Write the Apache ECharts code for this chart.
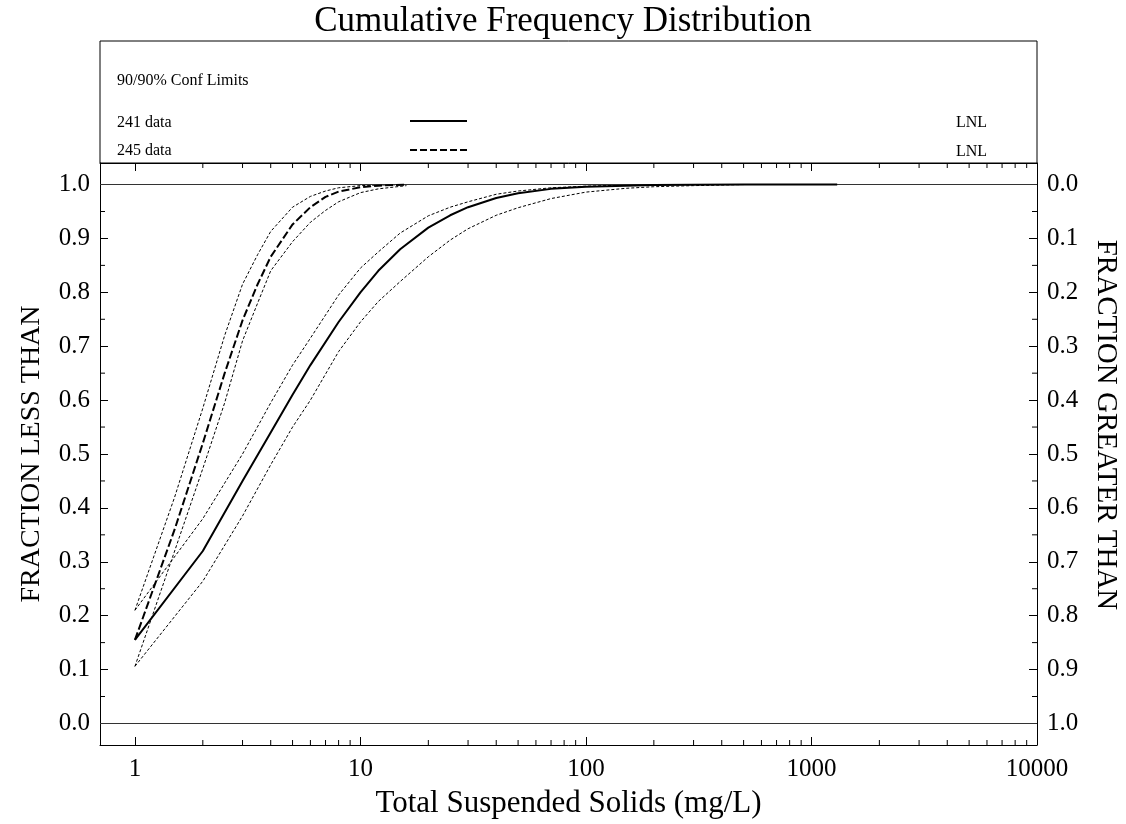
<!DOCTYPE html>
<html>
<head>
<meta charset="utf-8">
<script src="https://cdn.jsdelivr.net/npm/echarts@6.0.0/dist/echarts.min.js"></script>
<style>
  html, body { margin: 0; padding: 0; background: #fff; }
  #cfd { width: 1126px; height: 824px; }
</style>
</head>
<body>
<div id="cfd"></div>
<script>
// 241 data (solid) and its 90/90% limits
var x241 = [1, 2, 3, 4, 5, 6, 8, 10, 12, 15, 20, 25, 30, 40, 50, 70, 100, 150, 200, 300, 500, 1000, 1300];
var fit241 = [0.155, 0.32, 0.45, 0.54, 0.61, 0.665, 0.745, 0.80, 0.84, 0.88, 0.92, 0.943, 0.958, 0.975, 0.984, 0.992, 0.996, 0.998, 0.999, 0.9996, 1.0, 1.0, 1.0];
var confX241 = [1, 2, 3, 4, 5, 6, 8, 10, 12, 15, 20, 25, 30, 40, 50, 70, 100, 150, 200, 300, 500];
var upper241 = [0.21, 0.38, 0.50, 0.595, 0.665, 0.715, 0.795, 0.845, 0.875, 0.91, 0.942, 0.958, 0.968, 0.982, 0.988, 0.994, 0.997, 0.999, 0.9995, 1.0, 1.0];
var lower241 = [0.106, 0.264, 0.385, 0.48, 0.55, 0.60, 0.69, 0.745, 0.783, 0.82, 0.866, 0.897, 0.918, 0.943, 0.957, 0.974, 0.986, 0.993, 0.996, 0.998, 1.0];

// 245 data (dashed) and its 90/90% limits
var x245 = [1, 1.5, 2, 2.5, 3, 3.5, 4, 5, 6, 7, 8, 10, 12, 16];
var fit245 = [0.155, 0.36, 0.52, 0.65, 0.748, 0.815, 0.866, 0.926, 0.958, 0.977, 0.987, 0.995, 0.998, 1.0];
var upper245 = [0.21, 0.42, 0.585, 0.72, 0.815, 0.87, 0.913, 0.958, 0.978, 0.988, 0.994, 0.998, 0.999, 1.0];
var lower245 = [0.106, 0.32, 0.473, 0.595, 0.71, 0.78, 0.84, 0.894, 0.93, 0.952, 0.968, 0.985, 0.992, 0.998];

// minor tick positions
var xMinorTicks = [2, 3, 4, 5, 6, 7, 8, 9, 20, 30, 40, 50, 60, 70, 80, 90,
  200, 300, 400, 500, 600, 700, 800, 900, 2000, 3000, 4000, 5000, 6000, 7000, 8000, 9000];
var yMinorTicks = [0.05, 0.15, 0.25, 0.35, 0.45, 0.55, 0.65, 0.75, 0.85, 0.95];

var FONT = "Liberation Serif";

function pairs(xs, ys) {
  return xs.map(function (x, i) { return [x, ys[i]]; });
}

var myChart = echarts.init(document.getElementById("cfd"), null, { renderer: "canvas" });

function xAxisBase(pos) {
  return {
    type: "log",
    logBase: 10,
    position: pos,
    min: 0.7,
    max: 10000,
    axisLine: { show: true, onZero: false, lineStyle: { color: "#000", width: 1 } },
    axisTick: { show: true, inside: true, length: 8, lineStyle: { color: "#000" } },
    splitLine: { show: false },
  };
}

function yAxisBase(pos, fmt) {
  return {
    type: "value",
    position: pos,
    min: -0.04,
    max: 1.04,
    splitNumber: 10,
    axisLine: { show: true, onZero: false, lineStyle: { color: "#000", width: 1 } },
    axisTick: { show: true, inside: true, length: 8, lineStyle: { color: "#000" } },
    splitLine: { show: false },
    axisLabel: {
      show: true,
      showMinLabel: false,
      showMaxLabel: false,
      margin: 10,
      color: "#000",
      fontFamily: FONT,
      fontSize: 25,
      formatter: fmt,
    },
    nameLocation: "middle",
    nameTextStyle: { color: "#000", fontFamily: FONT, fontSize: 28 },
  };
}

var xBottom = xAxisBase("bottom");
xBottom.name = "Total Suspended Solids (mg/L)";
xBottom.nameLocation = "middle";
xBottom.nameGap = 43;
xBottom.nameTextStyle = { color: "#000", fontFamily: FONT, fontSize: 31 };
xBottom.axisLabel = {
  show: true,
  showMinLabel: false,
  hideOverlap: false,
  margin: 12,
  color: "#000",
  fontFamily: FONT,
  fontSize: 25,
  formatter: function (v) { return String(Math.round(v)); },
};

var xTop = xAxisBase("top");
xTop.axisLabel = { show: false };

var yLeft = yAxisBase("left", function (v) { return v.toFixed(1); });
yLeft.name = "FRACTION LESS THAN";
yLeft.nameGap = 54;
yLeft.nameRotate = 90;

var yRight = yAxisBase("right", function (v) { return Math.abs(1 - v).toFixed(1); });

var confStyle = { color: "#000", width: 1, type: [3, 2] };

var option = {
  backgroundColor: "#fff",
  animation: false,
  title: {
    text: "Cumulative Frequency Distribution",
    left: "center",
    top: -1,
    textStyle: { color: "#000", fontFamily: FONT, fontSize: 35, fontWeight: "normal" },
  },
  grid: { left: 100, right: 89, top: 163, bottom: 79, containLabel: false, outerBoundsMode: "none" },
  xAxis: [xBottom, xTop],
  yAxis: [yLeft, yRight],
  graphic: [
    // frame around legend block
    { type: "rect", shape: { x: 100, y: 41, width: 937, height: 122 }, style: { fill: "none", stroke: "#000", lineWidth: 1 }, silent: true },
    { type: "text", left: 117, top: 73, style: { text: "90/90% Conf Limits", fontFamily: FONT, fontSize: 16, fill: "#000" } },
    { type: "text", left: 117, top: 115, style: { text: "241 data", fontFamily: FONT, fontSize: 16, fill: "#000" } },
    { type: "text", left: 117, top: 143, style: { text: "245 data", fontFamily: FONT, fontSize: 16, fill: "#000" } },
    { type: "text", left: 956, top: 115, style: { text: "LNL", fontFamily: FONT, fontSize: 16, fill: "#000" } },
    { type: "text", left: 956, top: 144, style: { text: "LNL", fontFamily: FONT, fontSize: 16, fill: "#000" } },
    { type: "line", shape: { x1: 410, y1: 121, x2: 467, y2: 121 }, style: { stroke: "#000", lineWidth: 2 } },
    { type: "line", shape: { x1: 410, y1: 150, x2: 467, y2: 150 }, style: { stroke: "#000", lineWidth: 2, lineDash: [7, 3] } },
    // right axis title, sits a little above the axis middle
    {
      type: "text",
      x: 1106,
      y: 425,
      rotation: -Math.PI / 2,
      style: { text: "FRACTION GREATER THAN", fontFamily: FONT, fontSize: 29, fill: "#000", align: "center", verticalAlign: "middle" },
    },
  ],
  series: [
    {
      name: "241 data",
      type: "line",
      data: pairs(x241, fit241),
      showSymbol: false,
      lineStyle: { color: "#000", width: 2 },
      z: 5,
      markLine: {
        silent: true,
        symbol: ["none", "none"],
        label: { show: false },
        lineStyle: { color: "#333", width: 1.2, type: "solid" },
        data: [{ yAxis: 0 }, { yAxis: 1 }],
      },
    },
    { name: "241 upper", type: "line", data: pairs(confX241, upper241), showSymbol: false, lineStyle: confStyle },
    { name: "241 lower", type: "line", data: pairs(confX241, lower241), showSymbol: false, lineStyle: confStyle },
    {
      name: "245 data",
      type: "line",
      data: pairs(x245, fit245),
      showSymbol: false,
      lineStyle: { color: "#000", width: 2, type: [8, 3] },
      z: 5,
    },
    { name: "245 upper", type: "line", data: pairs(x245, upper245), showSymbol: false, lineStyle: confStyle },
    { name: "245 lower", type: "line", data: pairs(x245, lower245), showSymbol: false, lineStyle: confStyle },
    {
      // minor log ticks on bottom and top axes
      type: "custom",
      silent: true,
      clip: false,
      data: xMinorTicks.map(function (v) { return [v, 0.5]; }),
      renderItem: function (params, api) {
        var cs = params.coordSys;
        var px = api.coord([api.value(0), 0.5])[0];
        var st = { stroke: "#000", lineWidth: 1 };
        return {
          type: "group",
          children: [
            { type: "line", shape: { x1: px, y1: cs.y + cs.height, x2: px, y2: cs.y + cs.height - 5 }, style: st },
            { type: "line", shape: { x1: px, y1: cs.y, x2: px, y2: cs.y + 5 }, style: st },
          ],
        };
      },
    },
    {
      // minor ticks at the half tenths, left and right
      type: "custom",
      silent: true,
      clip: false,
      data: yMinorTicks.map(function (v) { return [1, v]; }),
      renderItem: function (params, api) {
        var cs = params.coordSys;
        var py = api.coord([1, api.value(1)])[1];
        var st = { stroke: "#000", lineWidth: 1 };
        return {
          type: "group",
          children: [
            { type: "line", shape: { x1: cs.x, y1: py, x2: cs.x + 5, y2: py }, style: st },
            { type: "line", shape: { x1: cs.x + cs.width, y1: py, x2: cs.x + cs.width - 5, y2: py }, style: st },
          ],
        };
      },
    },
  ],
};

myChart.setOption(option);
</script>
</body>
</html>
